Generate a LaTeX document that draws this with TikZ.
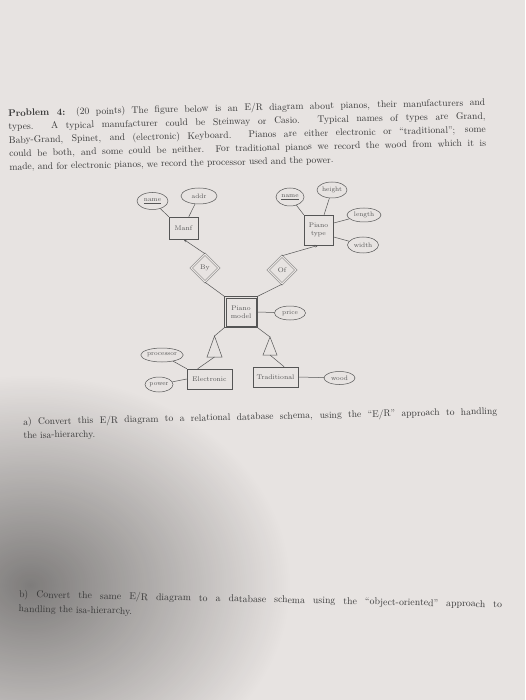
\documentclass[tikz,border=0pt]{standalone}
\usetikzlibrary{shapes.geometric,fadings,arrows.meta,calc}
\definecolor{pagebg}{HTML}{E7E3E1}
\definecolor{ink}{HTML}{383838}
\definecolor{dink}{HTML}{555555}
\newcommand{\jline}[2]{\makebox[#1][s]{#2}}
\tikzfading[name=softblob, inner color=transparent!0, outer color=transparent!100]
\begin{document}
\begin{tikzpicture}[x=1pt,y=-1pt,
  ent/.style={draw=dink, line width=0.5pt, rectangle, inner sep=0pt, text=dink, align=center,
    font=\fontsize{6.8}{7.8}\selectfont},
  attr/.style={draw=dink, line width=0.5pt, ellipse, inner sep=0pt, text=dink,
    font=\fontsize{6.5}{7}\selectfont},
  rel/.style={draw=dink, line width=0.45pt, diamond, double=pagebg, double distance=1.3pt,
    inner sep=0pt, minimum width=28, minimum height=28, text=dink, font=\fontsize{6.8}{7}\selectfont},
  conn/.style={draw=dink, line width=0.5pt},
  arr/.style={conn, -{Stealth[length=3.5pt,width=2.6pt]}},
  para/.style={text=ink, anchor=north west, inner sep=0pt, align=left,
    font=\fontsize{9.6}{13.5}\selectfont}
]
\useasboundingbox (0,0) rectangle (525,700);
\fill[pagebg] (0,0) rectangle (525,700);
\fill[black, opacity=0.45, path fading=softblob] (30,585) ellipse (260 and 210);

% problem text
\node[para, rotate=1.3] (prob) at (8,108.9) {%
\jline{477pt}{\textbf{Problem 4:} (20 points) The figure below is an E/R diagram about pianos, their manufacturers and}\\
\jline{477pt}{types. A typical manufacturer could be Steinway or Casio. Typical names of types are Grand,}\\
\jline{477pt}{Baby-Grand, Spinet, and (electronic) Keyboard. Pianos are either electronic or ``traditional''; some}\\
\jline{477pt}{could be both, and some could be neither. For traditional pianos we record the wood from which it is}\\
made, and for electronic pianos, we record the processor used and the power.};

% diagram
\node[attr, minimum width=31, minimum height=17] (nameL) at (152.5,201) {\underline{name}};
\node[attr, minimum width=36, minimum height=16] (addr) at (199,196) {addr};
\node[ent, minimum width=29, minimum height=22] (manf) at (183.5,228) {Manf};
\node[rel] (by) at (205,268) {By};
\node[attr, minimum width=28, minimum height=18] (nameR) at (290,197) {\underline{name}};
\node[attr, minimum width=30, minimum height=16] (height) at (332,190) {height};
\node[attr, minimum width=34, minimum height=14] (length) at (364,215) {length};
\node[attr, minimum width=31, minimum height=16] (width) at (363,245) {width};
\node[ent, minimum width=29, minimum height=30] (ptype) at (318.5,230) {Piano\\type};
\node[rel] (of) at (282,270) {Of};
\node[ent, minimum width=33, minimum height=31] (pmodel) at (241,312) {Piano\\model};
\draw[conn] ($(pmodel.north west)+(2,2)$) rectangle ($(pmodel.south east)+(-2,-2)$);
\node[attr, minimum width=31, minimum height=14] (price) at (290,313) {price};
\coordinate (tLa) at (214.5,336);
\coordinate (tLl) at (207,357);
\coordinate (tLr) at (222,357);
\coordinate (tLb) at (214.5,357);
\coordinate (tRa) at (270,337);
\coordinate (tRl) at (263,355);
\coordinate (tRr) at (277,355);
\coordinate (tRb) at (270,355);
\node[ent, minimum width=45, minimum height=20] (elec) at (209.5,379) {Electronic};
\node[ent, minimum width=45, minimum height=20] (trad) at (275.5,377) {Traditional};
\node[attr, minimum width=42, minimum height=14] (proc) at (162,355) {processor};
\node[attr, minimum width=28, minimum height=15] (power) at (159,384.5) {power};
\node[attr, minimum width=31, minimum height=13] (wood) at (339.5,378) {wood};

\draw[conn] (nameL) -- (manf.north west);
\draw[conn] (addr) -- (manf.65);
\draw[arr] (by.north) -- (manf.south);
\draw[conn] (by.south) -- (pmodel.north west);
\draw[conn] (of.south) -- (pmodel.north east);
\draw[arr] (of.north) -- (ptype.south);
\draw[conn] (nameR) -- (ptype.north west);
\draw[conn] (height) -- (ptype.70);
\draw[conn] (length) -- (ptype.25);
\draw[conn] (width) -- (ptype.-25);
\draw[conn] (price) -- (pmodel.east);
\draw[conn] (tLa) -- (tLl) -- (tLr) -- cycle;
\draw[conn] (tRa) -- (tRl) -- (tRr) -- cycle;
\draw[conn] (pmodel.south west) -- (tLa);
\draw[conn] (pmodel.south east) -- (tRa);
\draw[conn] (tLb) -- (elec.139);
\draw[conn] (tRb) -- (trad.50);
\draw[conn] (proc) -- (elec.north west);
\draw[conn] (power) -- (elec.west);
\draw[conn] (wood) -- (trad.east);

% questions
\node[para, rotate=1.3] (qa) at (23,417.7) {%
\jline{474pt}{a) Convert this E/R diagram to a relational database schema, using the ``E/R'' approach to handling}\\
the isa-hierarchy.};
\node[para, rotate=-1.2, font=\fontsize{9.8}{14.5}\selectfont] (qb) at (19,589.9) {%
\jline{483pt}{b) Convert the same E/R diagram to a database schema using the ``object-oriented'' approach to}\\
handling the isa-hierarchy.};
\end{tikzpicture}
\end{document}
